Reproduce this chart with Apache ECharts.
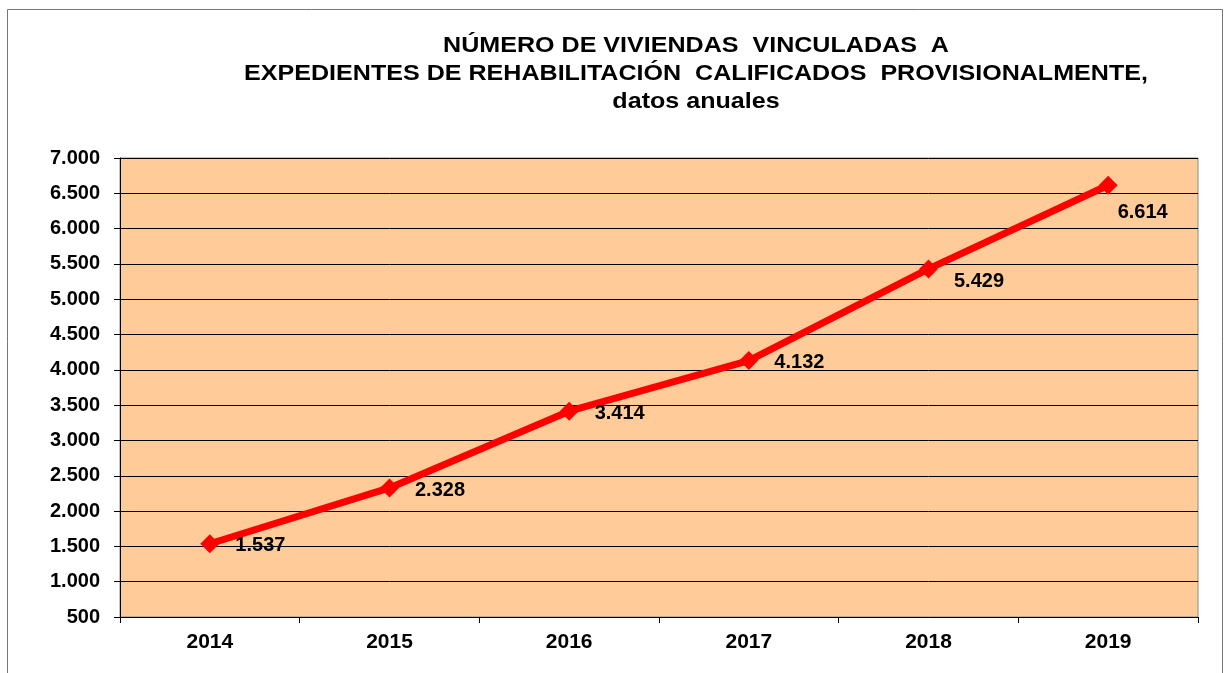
<!DOCTYPE html>
<html>
<head>
<meta charset="utf-8">
<script src="https://cdn.jsdelivr.net/npm/echarts@6/dist/echarts.min.js"></script>
<style>
html,body{margin:0;padding:0;background:#fff;}
#chart{width:1230px;height:673px;}
</style>
</head>
<body>
<div id="chart"></div>
<script>
const years = ['2014','2015','2016','2017','2018','2019'];
const viviendas = [1537, 2328, 3414, 4132, 5429, 6614];
const titleLines = ['NÚMERO DE VIVIENDAS  VINCULADAS  A', 'EXPEDIENTES DE REHABILITACIÓN  CALIFICADOS  PROVISIONALMENTE,', 'datos anuales'];

function fmt(v){ return String(v).replace(/\B(?=(\d{3})+(?!\d))/g, '.'); }

const FONT = 'Liberation Sans, Arial, sans-serif';
const labelOffsets = [[0,2],[0,3],[0,2],[0,2],[0,13],[-16,27]];
const titleY = [46, 74, 102];

const chart = echarts.init(document.getElementById('chart'));
chart.setOption({
  animation: false,
  backgroundColor: '#fff',
  graphic: [{
    type: 'rect', shape: { x: 7.5, y: 9.5, width: 1215, height: 700 },
    style: { fill: 'none', stroke: '#777', lineWidth: 1 }, silent: true, z: -1
  }].concat(titleLines.map((t, i) => ({
    type: 'text', x: 696, y: titleY[i], scaleX: 1.14, silent: true,
    style: { text: t, textAlign: 'center', textVerticalAlign: 'middle', verticalAlign: 'middle',
      font: 'bold 22px ' + FONT, fill: '#000' }
  }))),
  grid: {
    left: 120, right: 32, top: 158, bottom: 56,
    show: true, backgroundColor: '#FFCC99', borderColor: '#888', borderWidth: 1
  },
  xAxis: {
    type: 'category', data: years, boundaryGap: true,
    axisLine: { lineStyle: { color: '#000', width: 1 } },
    axisTick: { show: true, length: 6, lineStyle: { color: '#000' } },
    axisLabel: { color: '#000', fontWeight: 'bold', fontSize: 21, fontFamily: FONT, margin: 15 }
  },
  yAxis: {
    type: 'value', min: 500, max: 7000, interval: 500,
    axisLine: { show: true, lineStyle: { color: '#000', width: 1 } },
    axisTick: { show: true, length: 6, lineStyle: { color: '#000' } },
    axisLabel: { color: '#000', fontWeight: 'bold', fontSize: 20, fontFamily: FONT, margin: 20, formatter: fmt },
    splitLine: { show: true, lineStyle: { color: '#000', width: 1 } }
  },
  series: [{
    type: 'line',
    data: viviendas.map((v, i) => ({ value: v, label: { offset: labelOffsets[i] } })),
    lineStyle: { color: '#FF0000', width: 7 },
    itemStyle: { color: '#FF0000' },
    symbol: 'diamond', symbolSize: 19,
    label: {
      show: true, position: 'right', distance: 16,
      color: '#000', fontWeight: 'bold', fontSize: 20, fontFamily: FONT,
      formatter: p => fmt(p.value)
    }
  }]
});
</script>
</body>
</html>
